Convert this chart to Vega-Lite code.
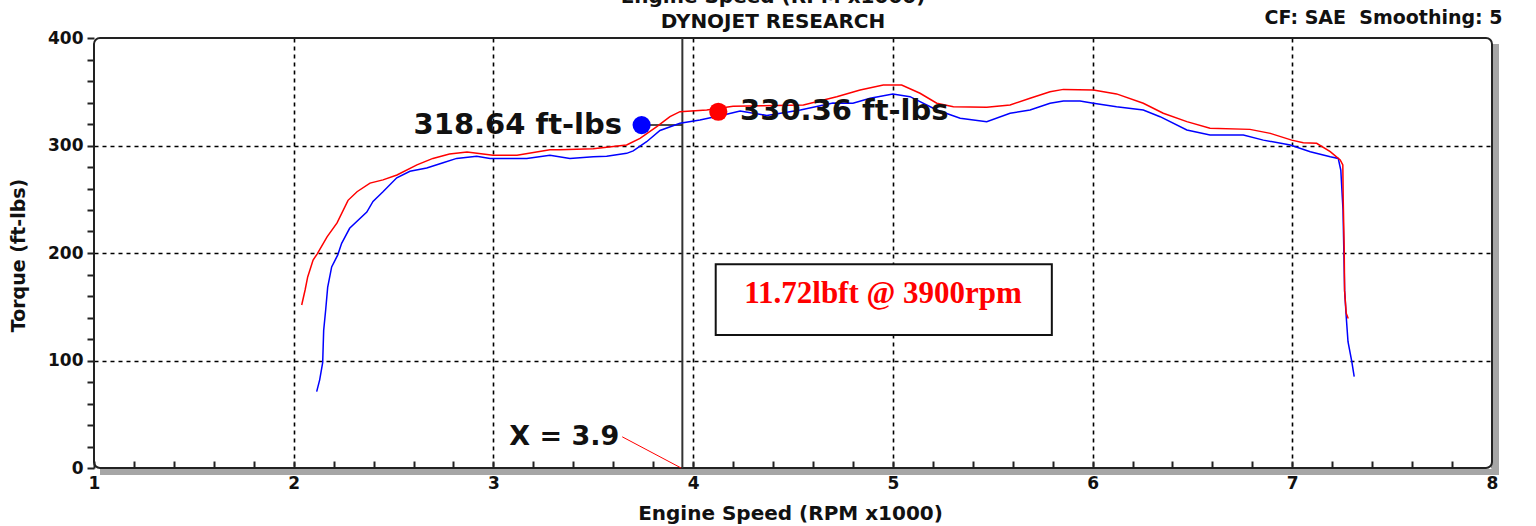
{
  "$schema": "https://vega.github.io/schema/vega-lite/v6.json",
  "width": 1398,
  "height": 430,
  "autosize": "none",
  "padding": {"left": 94, "top": 38, "right": 44, "bottom": 58},
  "background": "white",
  "config": {"view": {"stroke": null}, "font": "DejaVu Sans"},
  "title": {
    "text": ["Engine Speed (RPM x1000)", "DYNOJET RESEARCH"],
    "frame": "group",
    "anchor": "middle",
    "dx": -20,
    "offset": -24,
    "fontSize": 20,
    "fontWeight": "bold",
    "font": "DejaVu Sans",
    "color": "#111111",
    "lineHeight": 25
  },
  "datasets": {
    "curves": [
      {"run": "Run 2", "rpm": 2.115, "tq": 71},
      {"run": "Run 2", "rpm": 2.13, "tq": 82},
      {"run": "Run 2", "rpm": 2.145, "tq": 98},
      {"run": "Run 2", "rpm": 2.15, "tq": 128},
      {"run": "Run 2", "rpm": 2.16, "tq": 147},
      {"run": "Run 2", "rpm": 2.17, "tq": 168},
      {"run": "Run 2", "rpm": 2.19, "tq": 187},
      {"run": "Run 2", "rpm": 2.22, "tq": 198},
      {"run": "Run 2", "rpm": 2.24, "tq": 209},
      {"run": "Run 2", "rpm": 2.28, "tq": 223},
      {"run": "Run 2", "rpm": 2.366, "tq": 238},
      {"run": "Run 2", "rpm": 2.397, "tq": 248},
      {"run": "Run 2", "rpm": 2.447, "tq": 257},
      {"run": "Run 2", "rpm": 2.516, "tq": 270},
      {"run": "Run 2", "rpm": 2.582, "tq": 276},
      {"run": "Run 2", "rpm": 2.666, "tq": 279},
      {"run": "Run 2", "rpm": 2.748, "tq": 284},
      {"run": "Run 2", "rpm": 2.816, "tq": 288},
      {"run": "Run 2", "rpm": 2.916, "tq": 290},
      {"run": "Run 2", "rpm": 2.983, "tq": 288},
      {"run": "Run 2", "rpm": 3.167, "tq": 288},
      {"run": "Run 2", "rpm": 3.283, "tq": 291},
      {"run": "Run 2", "rpm": 3.383, "tq": 288},
      {"run": "Run 2", "rpm": 3.5, "tq": 289.6},
      {"run": "Run 2", "rpm": 3.567, "tq": 290},
      {"run": "Run 2", "rpm": 3.667, "tq": 292.7},
      {"run": "Run 2", "rpm": 3.7, "tq": 295},
      {"run": "Run 2", "rpm": 3.767, "tq": 303.5},
      {"run": "Run 2", "rpm": 3.834, "tq": 314},
      {"run": "Run 2", "rpm": 3.934, "tq": 320.7},
      {"run": "Run 2", "rpm": 4.034, "tq": 323.7},
      {"run": "Run 2", "rpm": 4.168, "tq": 329},
      {"run": "Run 2", "rpm": 4.235, "tq": 332},
      {"run": "Run 2", "rpm": 4.369, "tq": 328},
      {"run": "Run 2", "rpm": 4.537, "tq": 333},
      {"run": "Run 2", "rpm": 4.7, "tq": 339.5},
      {"run": "Run 2", "rpm": 4.8, "tq": 339.3},
      {"run": "Run 2", "rpm": 4.886, "tq": 344},
      {"run": "Run 2", "rpm": 5.0, "tq": 348},
      {"run": "Run 2", "rpm": 5.086, "tq": 345.4},
      {"run": "Run 2", "rpm": 5.22, "tq": 333},
      {"run": "Run 2", "rpm": 5.337, "tq": 325.3},
      {"run": "Run 2", "rpm": 5.47, "tq": 322.2},
      {"run": "Run 2", "rpm": 5.587, "tq": 330},
      {"run": "Run 2", "rpm": 5.687, "tq": 333},
      {"run": "Run 2", "rpm": 5.787, "tq": 339.3},
      {"run": "Run 2", "rpm": 5.854, "tq": 341.4},
      {"run": "Run 2", "rpm": 5.937, "tq": 341.4},
      {"run": "Run 2", "rpm": 6.004, "tq": 339.3},
      {"run": "Run 2", "rpm": 6.12, "tq": 336},
      {"run": "Run 2", "rpm": 6.254, "tq": 333},
      {"run": "Run 2", "rpm": 6.338, "tq": 326.8},
      {"run": "Run 2", "rpm": 6.472, "tq": 314.4},
      {"run": "Run 2", "rpm": 6.588, "tq": 309.8},
      {"run": "Run 2", "rpm": 6.755, "tq": 309.8},
      {"run": "Run 2", "rpm": 6.855, "tq": 305},
      {"run": "Run 2", "rpm": 6.99, "tq": 300.5},
      {"run": "Run 2", "rpm": 7.09, "tq": 294.2},
      {"run": "Run 2", "rpm": 7.19, "tq": 289.6},
      {"run": "Run 2", "rpm": 7.23, "tq": 288},
      {"run": "Run 2", "rpm": 7.243, "tq": 277},
      {"run": "Run 2", "rpm": 7.254, "tq": 240},
      {"run": "Run 2", "rpm": 7.258, "tq": 203},
      {"run": "Run 2", "rpm": 7.262, "tq": 165},
      {"run": "Run 2", "rpm": 7.27, "tq": 141},
      {"run": "Run 2", "rpm": 7.279, "tq": 117.5},
      {"run": "Run 2", "rpm": 7.298, "tq": 99},
      {"run": "Run 2", "rpm": 7.31, "tq": 85},
      {"run": "Run 1", "rpm": 2.04, "tq": 151.6},
      {"run": "Run 1", "rpm": 2.057, "tq": 165.6},
      {"run": "Run 1", "rpm": 2.07, "tq": 177.7},
      {"run": "Run 1", "rpm": 2.097, "tq": 193.5},
      {"run": "Run 1", "rpm": 2.117, "tq": 199},
      {"run": "Run 1", "rpm": 2.167, "tq": 215},
      {"run": "Run 1", "rpm": 2.217, "tq": 228},
      {"run": "Run 1", "rpm": 2.272, "tq": 249},
      {"run": "Run 1", "rpm": 2.317, "tq": 257},
      {"run": "Run 1", "rpm": 2.382, "tq": 265},
      {"run": "Run 1", "rpm": 2.447, "tq": 268},
      {"run": "Run 1", "rpm": 2.517, "tq": 272.6},
      {"run": "Run 1", "rpm": 2.617, "tq": 282},
      {"run": "Run 1", "rpm": 2.697, "tq": 288},
      {"run": "Run 1", "rpm": 2.78, "tq": 292},
      {"run": "Run 1", "rpm": 2.868, "tq": 294},
      {"run": "Run 1", "rpm": 2.998, "tq": 291},
      {"run": "Run 1", "rpm": 3.118, "tq": 291},
      {"run": "Run 1", "rpm": 3.283, "tq": 296},
      {"run": "Run 1", "rpm": 3.333, "tq": 296},
      {"run": "Run 1", "rpm": 3.5, "tq": 297},
      {"run": "Run 1", "rpm": 3.667, "tq": 300.5},
      {"run": "Run 1", "rpm": 3.734, "tq": 306.7},
      {"run": "Run 1", "rpm": 3.818, "tq": 317.5},
      {"run": "Run 1", "rpm": 3.884, "tq": 326.8},
      {"run": "Run 1", "rpm": 3.934, "tq": 331.5},
      {"run": "Run 1", "rpm": 4.068, "tq": 333},
      {"run": "Run 1", "rpm": 4.2, "tq": 336.5},
      {"run": "Run 1", "rpm": 4.35, "tq": 337},
      {"run": "Run 1", "rpm": 4.552, "tq": 337.7},
      {"run": "Run 1", "rpm": 4.719, "tq": 345.4},
      {"run": "Run 1", "rpm": 4.836, "tq": 351.6},
      {"run": "Run 1", "rpm": 4.952, "tq": 356.3},
      {"run": "Run 1", "rpm": 5.044, "tq": 356.3},
      {"run": "Run 1", "rpm": 5.136, "tq": 348.6},
      {"run": "Run 1", "rpm": 5.22, "tq": 339.3},
      {"run": "Run 1", "rpm": 5.303, "tq": 336},
      {"run": "Run 1", "rpm": 5.47, "tq": 335.5},
      {"run": "Run 1", "rpm": 5.587, "tq": 337.7},
      {"run": "Run 1", "rpm": 5.687, "tq": 344},
      {"run": "Run 1", "rpm": 5.787, "tq": 350},
      {"run": "Run 1", "rpm": 5.854, "tq": 352.2},
      {"run": "Run 1", "rpm": 6.004, "tq": 351.6},
      {"run": "Run 1", "rpm": 6.12, "tq": 348},
      {"run": "Run 1", "rpm": 6.254, "tq": 339.3},
      {"run": "Run 1", "rpm": 6.354, "tq": 330},
      {"run": "Run 1", "rpm": 6.472, "tq": 322.2},
      {"run": "Run 1", "rpm": 6.588, "tq": 316},
      {"run": "Run 1", "rpm": 6.788, "tq": 315},
      {"run": "Run 1", "rpm": 6.89, "tq": 311.3},
      {"run": "Run 1", "rpm": 6.997, "tq": 305},
      {"run": "Run 1", "rpm": 7.055, "tq": 302.6},
      {"run": "Run 1", "rpm": 7.122, "tq": 302},
      {"run": "Run 1", "rpm": 7.19, "tq": 294.2},
      {"run": "Run 1", "rpm": 7.24, "tq": 286.5},
      {"run": "Run 1", "rpm": 7.253, "tq": 282},
      {"run": "Run 1", "rpm": 7.255, "tq": 250},
      {"run": "Run 1", "rpm": 7.26, "tq": 203},
      {"run": "Run 1", "rpm": 7.262, "tq": 165},
      {"run": "Run 1", "rpm": 7.27, "tq": 144},
      {"run": "Run 1", "rpm": 7.28, "tq": 139}
    ]
  },
  "layer": [
    {
      "data": {"values": [{}]},
      "mark": {"type": "rect", "fill": "#a6a6a6", "x2Offset": 7, "yOffset": 6, "y2Offset": 7},
      "encoding": {
        "x": {"datum": 8, "type": "quantitative", "scale": {"domain": [1, 8], "nice": false, "zero": false}, "axis": null},
        "x2": {"datum": 8},
        "y": {"datum": 400, "type": "quantitative", "scale": {"domain": [0, 400], "nice": false}, "axis": null},
        "y2": {"datum": 0}
      }
    },
    {
      "data": {"values": [{}]},
      "mark": {"type": "rect", "fill": "#a6a6a6", "xOffset": 6, "x2Offset": 7, "yOffset": 7, "y2Offset": 1},
      "encoding": {
        "x": {"datum": 1, "type": "quantitative", "axis": null},
        "x2": {"datum": 8},
        "y": {"datum": 0, "type": "quantitative", "axis": null},
        "y2": {"datum": 0}
      }
    },
    {
      "data": {"values": [{}]},
      "mark": {"type": "rect", "fill": "transparent", "stroke": "#222222", "strokeWidth": 2, "cornerRadius": 6},
      "encoding": {
        "x": {"datum": 1, "type": "quantitative", "axis": {"orient": "bottom", "values": [2, 3, 4, 5, 6, 7], "grid": true, "gridDash": [4, 4], "gridColor": "#000000", "gridWidth": 1.6, "gridOpacity": 1, "domain": false, "ticks": false, "labels": false, "title": null}},
        "x2": {"datum": 8},
        "y": {"datum": 0, "type": "quantitative", "axis": {"orient": "left", "values": [100, 200, 300], "grid": true, "gridDash": [4, 4], "gridColor": "#000000", "gridWidth": 1.6, "gridOpacity": 1, "domain": false, "ticks": false, "labels": false, "title": null}},
        "y2": {"datum": 400}
      }
    },
    {
      "data": {"values": [{}]},
      "mark": {"type": "rect", "fill": "white", "stroke": "#111111", "strokeWidth": 2},
      "encoding": {
        "x": {"datum": 4.113, "type": "quantitative", "axis": null},
        "x2": {"datum": 5.796},
        "y": {"datum": 123.7, "type": "quantitative", "axis": null},
        "y2": {"datum": 189.5}
      }
    },
    {
      "data": {"values": [{"rpm": 4.951, "tq": 161.6, "note": "11.72lbft @ 3900rpm"}]},
      "mark": {"type": "text", "font": "Liberation Serif", "fontWeight": "bold", "fontSize": 31, "color": "#ff0000", "align": "center", "baseline": "middle"},
      "encoding": {
        "x": {"field": "rpm", "type": "quantitative", "axis": null},
        "y": {"field": "tq", "type": "quantitative", "axis": null},
        "text": {"field": "note"}
      }
    },
    {
      "data": {"values": [{}]},
      "mark": {"type": "rule", "color": "#333333", "strokeWidth": 2},
      "encoding": {
        "x": {"datum": 3.946, "type": "quantitative", "axis": {"orient": "top", "values": [], "labels": false, "ticks": false, "domain": false, "grid": false, "title": "CF: SAE\u00a0 Smoothing: 5", "titleX": 1408, "titleY": -21, "titleAlign": "right", "titleBaseline": "middle", "titleFontSize": 19, "titleFontWeight": "bold", "titleFont": "DejaVu Sans", "titleColor": "#111111"}},
        "y": {"datum": 0, "type": "quantitative", "axis": null},
        "y2": {"datum": 400}
      }
    },
    {
      "data": {"values": [{}]},
      "mark": {"type": "rule", "color": "#ff0000", "strokeWidth": 1},
      "encoding": {
        "x": {"datum": 3.645, "type": "quantitative", "axis": null},
        "x2": {"datum": 3.94},
        "y": {"datum": 29, "type": "quantitative", "axis": null},
        "y2": {"datum": 0}
      }
    },
    {
      "data": {"values": [{"rpm": 3.64, "tq": 29, "note": "X = 3.9"}]},
      "mark": {"type": "text", "font": "DejaVu Sans", "fontWeight": "bold", "fontSize": 27, "color": "#111111", "align": "right", "baseline": "middle", "dx": -2},
      "encoding": {
        "x": {"field": "rpm", "type": "quantitative", "axis": null},
        "y": {"field": "tq", "type": "quantitative", "axis": null},
        "text": {"field": "note"}
      }
    },
    {
      "data": {"values": [{}]},
      "mark": {"type": "rule", "color": "#111111", "strokeWidth": 1.5},
      "encoding": {
        "x": {"datum": 3.77, "type": "quantitative", "axis": null},
        "x2": {"datum": 3.944},
        "y": {"datum": 319, "type": "quantitative", "axis": null}
      }
    },
    {
      "data": {"name": "curves"},
      "mark": {"type": "line", "strokeWidth": 1.5},
      "encoding": {
        "x": {"field": "rpm", "type": "quantitative", "axis": {
          "orient": "bottom",
          "values": [1, 1.2, 1.4, 1.6, 1.8, 2, 2.2, 2.4, 2.6, 2.8, 3, 3.2, 3.4, 3.6, 3.8, 4, 4.2, 4.4, 4.6, 4.8, 5, 5.2, 5.4, 5.6, 5.8, 6, 6.2, 6.4, 6.6, 6.8, 7, 7.2, 7.4, 7.6, 7.8, 8],
          "labelExpr": "abs(datum.value - round(datum.value)) < 0.001 ? format(datum.value, 'd') : ''",
          "grid": false, "domain": false,
          "tickSize": -7, "tickWidth": 2, "tickColor": "#222222",
          "labelFont": "DejaVu Sans", "labelFontSize": 17, "labelFontWeight": "bold", "labelColor": "#111111",
          "labelPadding": 14, "labelFlush": false, "labelOverlap": false,
          "title": "Engine Speed (RPM x1000)", "titleFont": "DejaVu Sans", "titleFontSize": 20, "titleFontWeight": "bold", "titleColor": "#111111",
          "titleX": 696, "titleY": 45, "titleBaseline": "middle"
        }},
        "y": {"field": "tq", "type": "quantitative", "axis": {
          "orient": "left",
          "values": [0, 20, 40, 60, 80, 100, 120, 140, 160, 180, 200, 220, 240, 260, 280, 300, 320, 340, 360, 380, 400],
          "labelExpr": "datum.value % 100 === 0 ? datum.label : ''",
          "grid": false, "domain": false,
          "tickSize": 7, "tickWidth": 2, "tickColor": "#222222",
          "labelFont": "DejaVu Sans", "labelFontSize": 17, "labelFontWeight": "bold", "labelColor": "#111111",
          "labelPadding": 4, "labelFlush": false, "labelOverlap": false,
          "title": "Torque (ft-lbs)", "titleFont": "DejaVu Sans", "titleFontSize": 19, "titleFontWeight": "bold", "titleColor": "#111111",
          "titleX": -76, "titleY": 217, "titleBaseline": "middle"
        }},
        "color": {"field": "run", "type": "nominal", "scale": {"domain": ["Run 2", "Run 1"], "range": ["#0000ff", "#ff0000"]}, "legend": null}
      }
    },
    {
      "data": {"values": [{"run": "Run 2", "rpm": 3.742, "tq": 319}, {"run": "Run 1", "rpm": 4.126, "tq": 331.4}]},
      "mark": {"type": "point", "shape": "circle", "filled": true, "size": 330, "opacity": 1},
      "encoding": {
        "x": {"field": "rpm", "type": "quantitative", "axis": null},
        "y": {"field": "tq", "type": "quantitative", "axis": null},
        "color": {"field": "run", "type": "nominal", "legend": null}
      }
    },
    {
      "data": {"values": [{"rpm": 3.644, "tq": 319, "note": "318.64 ft-lbs"}]},
      "mark": {"type": "text", "font": "DejaVu Sans", "fontWeight": "bold", "fontSize": 29, "color": "#111111", "align": "right", "baseline": "middle"},
      "encoding": {
        "x": {"field": "rpm", "type": "quantitative", "axis": null},
        "y": {"field": "tq", "type": "quantitative", "axis": null},
        "text": {"field": "note"}
      }
    },
    {
      "data": {"values": [{"rpm": 4.235, "tq": 332, "note": "330.36 ft-lbs"}]},
      "mark": {"type": "text", "font": "DejaVu Sans", "fontWeight": "bold", "fontSize": 29, "color": "#111111", "align": "left", "baseline": "middle"},
      "encoding": {
        "x": {"field": "rpm", "type": "quantitative", "axis": null},
        "y": {"field": "tq", "type": "quantitative", "axis": null},
        "text": {"field": "note"}
      }
    }
  ],
  "resolve": {"axis": {"x": "independent", "y": "independent"}}
}
